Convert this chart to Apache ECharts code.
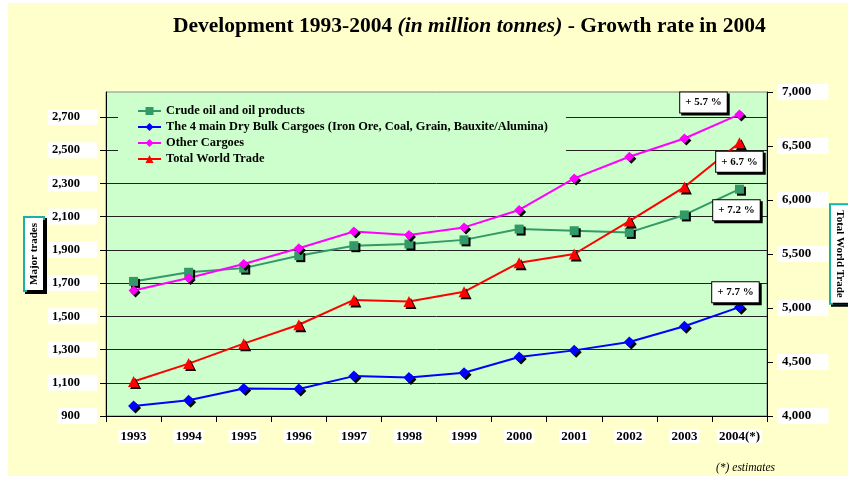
<!DOCTYPE html>
<html>
<head>
<meta charset="utf-8">
<script src="https://cdn.jsdelivr.net/npm/echarts@6/dist/echarts.min.js"></script>
<style>
    html, body { margin: 0; padding: 0; background: #fff; }
    #graph { width: 848px; height: 477px; }
</style>
</head>
<body>
<div id="graph"></div>
<script>
// 数据
var years = ['1993', '1994', '1995', '1996', '1997', '1998', '1999', '2000', '2001', '2002', '2003', '2004(*)'];
var crudeOil = [1710, 1765, 1790, 1865, 1925, 1935, 1960, 2025, 2015, 2005, 2110, 2265];
var dryBulk = [960, 995, 1065, 1062, 1140, 1132, 1160, 1255, 1295, 1345, 1440, 1555];
var otherCargoes = [1655, 1730, 1815, 1910, 2010, 1990, 2035, 2140, 2330, 2460, 2570, 2715];
var totalTrade = [4320, 4485, 4670, 4845, 5075, 5060, 5150, 5420, 5500, 5805, 6120, 6530];
var growthCrude = '+ 7.2 %';
var growthDry = '+ 7.7 %';
var growthOther = '+ 5.7 %';
var growthTotal = '+ 6.7 %';
var leftTicks = [900, 1100, 1300, 1500, 1700, 1900, 2100, 2300, 2500, 2700];

var serif = 'Liberation Serif';

// 最后一个点加增长率标签
function withGrowth(values, text, offset) {
    return values.map(function (v, i) {
        if (i < values.length - 1) return v;
        return {value: v, label: {show: true, formatter: text, offset: offset}};
    });
}

function fmt(val) {
    return val.toLocaleString('en-US');
}

var growthLabel = {
    show: false,
    position: 'inside',
    color: '#000',
    fontFamily: serif,
    fontWeight: 'bold',
    fontSize: 11,
    backgroundColor: '#fff',
    borderColor: '#000',
    borderWidth: 1,
    padding: [5, 5, 4, 5],
    shadowColor: '#000',
    shadowOffsetX: 2,
    shadowOffsetY: 2,
    shadowBlur: 0
};

function markShadow(color) {
    return {
        color: color,
        shadowColor: '#000',
        shadowOffsetX: 2,
        shadowOffsetY: 2,
        shadowBlur: 0
    };
}

var nameBox = {
    fontFamily: serif,
    fontWeight: 'bold',
    fontSize: 11,
    color: '#000',
    backgroundColor: '#fff',
    borderColor: '#1AAFAF',
    borderWidth: 2,
    padding: [4, 5, 3, 5],
    shadowColor: '#000',
    shadowOffsetX: 2,
    shadowOffsetY: 2,
    shadowBlur: 0
};

var option = {
    animation: false,
    backgroundColor: '#fff',
    graphic: [{
        type: 'rect',
        z: -10,
        silent: true,
        shape: {x: 8, y: 3, width: 840, height: 473},
        style: {fill: '#FFFFCC'}
    }],
    title: [{
        text: '{b|Development 1993-2004 }{i|(in million tonnes)}{b| - Growth rate in 2004}',
        left: 168,
        top: 10,
        textStyle: {
            rich: {
                b: {fontFamily: serif, fontWeight: 'bold', fontSize: 21.5, color: '#000'},
                i: {fontFamily: serif, fontStyle: 'italic', fontSize: 21.5, color: '#000'}
            }
        }
    }, {
        text: '(*) estimates',
        left: 711,
        top: 457,
        textStyle: {fontFamily: serif, fontStyle: 'italic', fontWeight: 'normal', fontSize: 11.5, color: '#000'}
    }],
    legend: {
        orient: 'vertical',
        left: 118,
        top: 93,
        padding: [12, 18, 8, 19],
        itemGap: 4,
        itemWidth: 23,
        itemHeight: 10,
        backgroundColor: '#CCFFCC',
        textStyle: {fontFamily: serif, fontWeight: 'bold', fontSize: 12.4, color: '#000'},
        data: ['Crude oil and oil products',
            'The 4 main Dry Bulk Cargoes (Iron Ore, Coal, Grain, Bauxite/Alumina)',
            'Other Cargoes', 'Total World Trade']
    },
    grid: {
        left: 106,
        right: 81,
        top: 92,
        bottom: 61,
        outerBoundsMode: 'none',
        show: true,
        backgroundColor: '#CCFFCC',
        borderColor: '#888',
        borderWidth: 1
    },
    xAxis: {
        type: 'category',
        data: years,
        boundaryGap: true,
        axisLine: {lineStyle: {color: '#000', width: 1}},
        axisTick: {show: true, length: 6, lineStyle: {color: '#000'}},
        axisLabel: {
            margin: 13,
            color: '#000',
            fontFamily: serif,
            fontWeight: 'bold',
            fontSize: 13,
            backgroundColor: '#fff',
            padding: [1, 2, 0, 2]
        }
    },
    yAxis: [{
        type: 'value',
        min: 900,
        max: 2850,
        name: 'Major trades',
        nameLocation: 'middle',
        nameRotate: 90,
        nameGap: 63,
        nameMoveOverlap: false,
        nameTextStyle: nameBox,
        axisLine: {show: true, lineStyle: {color: '#000'}},
        axisTick: {show: true, length: 6, customValues: leftTicks, lineStyle: {color: '#000'}},
        splitLine: {show: true, lineStyle: {color: '#222', width: 1}},
        axisLabel: {
            customValues: leftTicks,
            margin: 9,
            color: '#000',
            fontFamily: serif,
            fontWeight: 'bold',
            fontSize: 12.5,
            backgroundColor: '#fff',
            padding: [2, 17, 1, 4],
            formatter: fmt
        }
    }, {
        type: 'value',
        min: 4000,
        max: 7000,
        interval: 500,
        position: 'right',
        name: 'Total World Trade',
        nameLocation: 'middle',
        nameRotate: -90,
        nameGap: 64,
        nameMoveOverlap: false,
        nameTextStyle: nameBox,
        axisLine: {show: true, lineStyle: {color: '#000'}},
        axisTick: {show: true, length: 6, lineStyle: {color: '#000'}},
        splitLine: {show: false},
        axisLabel: {
            margin: 10,
            color: '#000',
            fontFamily: serif,
            fontWeight: 'bold',
            fontSize: 13,
            backgroundColor: '#fff',
            padding: [2, 17, 1, 5],
            formatter: fmt
        }
    }],
    series: [{
        name: 'Crude oil and oil products',
        type: 'line',
        yAxisIndex: 0,
        symbol: 'rect',
        symbolSize: 9,
        lineStyle: {color: '#339966', width: 2},
        itemStyle: markShadow('#339966'),
        label: growthLabel,
        data: withGrowth(crudeOil, growthCrude, [-3, 21])
    }, {
        name: 'The 4 main Dry Bulk Cargoes (Iron Ore, Coal, Grain, Bauxite/Alumina)',
        type: 'line',
        yAxisIndex: 0,
        symbol: 'diamond',
        symbolSize: 11,
        lineStyle: {color: '#0000FF', width: 2},
        itemStyle: markShadow('#0000FF'),
        label: growthLabel,
        data: withGrowth(dryBulk, growthDry, [-4, -15])
    }, {
        name: 'Other Cargoes',
        type: 'line',
        yAxisIndex: 0,
        symbol: 'diamond',
        symbolSize: 10,
        lineStyle: {color: '#FF00FF', width: 2},
        itemStyle: markShadow('#FF00FF'),
        label: growthLabel,
        data: withGrowth(otherCargoes, growthOther, [-36, -12])
    }, {
        name: 'Total World Trade',
        type: 'line',
        yAxisIndex: 1,
        symbol: 'triangle',
        symbolSize: 11,
        lineStyle: {color: '#FF0000', width: 2},
        itemStyle: markShadow('#FF0000'),
        label: growthLabel,
        data: withGrowth(totalTrade, growthTotal, [0, 19])
    }]
};

var chart = echarts.init(document.getElementById('graph'));
chart.setOption(option);
</script>
</body>
</html>
